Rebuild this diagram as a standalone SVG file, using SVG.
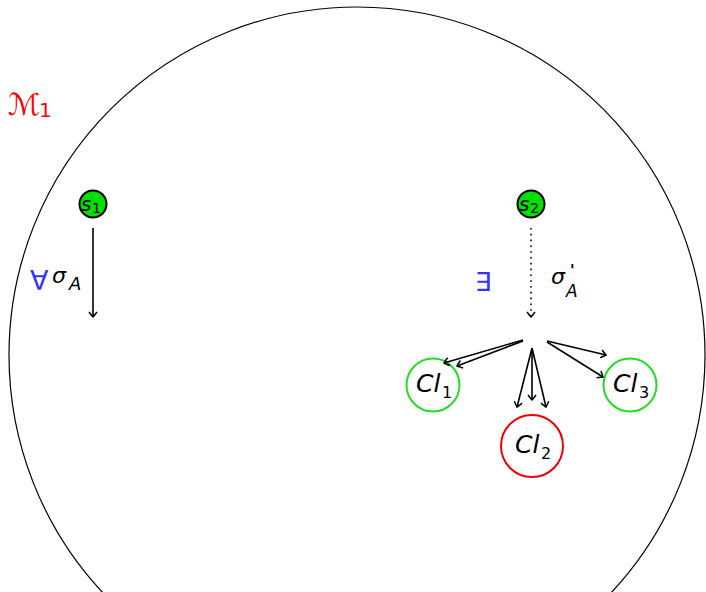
<svg xmlns="http://www.w3.org/2000/svg" width="706" height="592" viewBox="0 0 706 592">
<style>
.t{font-family:"DejaVu Sans","Liberation Sans",sans-serif;font-style:italic;fill:#000}
.n{font-family:"DejaVu Sans","Liberation Sans",sans-serif;fill:#000}
.e{stroke:#000;stroke-width:1.6;fill:none}
.st{fill:#00e000;stroke:#000;stroke-width:2}
</style>
<defs>
<marker id="a" viewBox="-6 -5 8 10" markerWidth="8" markerHeight="10" refX="0" refY="0" orient="auto" markerUnits="userSpaceOnUse">
<path d="M-5,-4 Q-1,-1 0,0 Q-1,1 -5,4" fill="none" stroke="#000" stroke-width="1.5"/>
</marker>
</defs>
<rect width="706" height="592" fill="#fff"/>
<g id="world">
<circle cx="357" cy="355" r="348" fill="none" stroke="#000" stroke-width="1.2"/>
<text x="8" y="115" font-family="DejaVu Sans,sans-serif" font-style="italic" font-size="30" fill="#ff0000">ℳ</text>
<text x="39" y="117" font-family="DejaVu Sans,sans-serif" font-size="20" fill="#ff0000">1</text>
</g>
<g id="s1">
<circle class="st" cx="93" cy="204" r="13.5"/>
<text class="t" x="81" y="211" font-size="20">s</text>
<text class="n" x="92" y="213" font-size="14">1</text>
</g>
<g id="s2">
<circle class="st" cx="531" cy="204" r="13.5"/>
<text class="t" x="519" y="211" font-size="20">s</text>
<text class="n" x="530" y="213" font-size="14">2</text>
</g>
<g id="cl1">
<circle cx="433" cy="385" r="26.5" fill="none" stroke="#22dd22" stroke-width="2"/>
<text class="t" x="416" y="392" font-size="25">Cl</text>
<text class="n" x="442" y="398" font-size="16">1</text>
</g>
<g id="cl2">
<circle cx="532" cy="446" r="31" fill="none" stroke="#ee0000" stroke-width="2"/>
<text class="t" x="515" y="453" font-size="25">Cl</text>
<text class="n" x="541" y="459" font-size="16">2</text>
</g>
<g id="cl3">
<circle cx="630" cy="385" r="26.5" fill="none" stroke="#22dd22" stroke-width="2"/>
<text class="t" x="613" y="392" font-size="25">Cl</text>
<text class="n" x="639" y="398" font-size="16">3</text>
</g>
<g id="labels">
<text x="30" y="290" font-family="DejaVu Sans,sans-serif" font-size="27" fill="#3333ff">∀</text>
<text class="t" x="52" y="283" font-size="22">σ</text>
<text class="t" x="69" y="290" font-size="18">A</text>
<text x="475" y="291" font-family="DejaVu Sans,sans-serif" font-size="26" fill="#3333ff">∃</text>
<text class="t" x="551" y="284" font-size="22">σ</text>
<text class="t" x="570" y="276" font-size="15" font-weight="bold">'</text>
<text class="t" x="566" y="297" font-size="17">A</text>
</g>
<g id="connectors">
<line class="e" x1="93" y1="228" x2="93" y2="317" marker-end="url(#a)"/>
<line class="e" x1="531" y1="228" x2="531" y2="317" stroke-dasharray="1.6 4.2" stroke-width="1.6" marker-end="url(#a)"/>
<line class="e" x1="523" y1="340" x2="444" y2="363" marker-end="url(#a)"/>
<line class="e" x1="523" y1="341" x2="457" y2="366" marker-end="url(#a)"/>
<line class="e" x1="532" y1="348" x2="517" y2="407" marker-end="url(#a)"/>
<line class="e" x1="532" y1="348" x2="532" y2="400" marker-end="url(#a)"/>
<line class="e" x1="532" y1="348" x2="546" y2="407" marker-end="url(#a)"/>
<line class="e" x1="547" y1="341" x2="606" y2="355" marker-end="url(#a)"/>
<line class="e" x1="547" y1="342" x2="603" y2="377" marker-end="url(#a)"/>
</g>
</svg>
